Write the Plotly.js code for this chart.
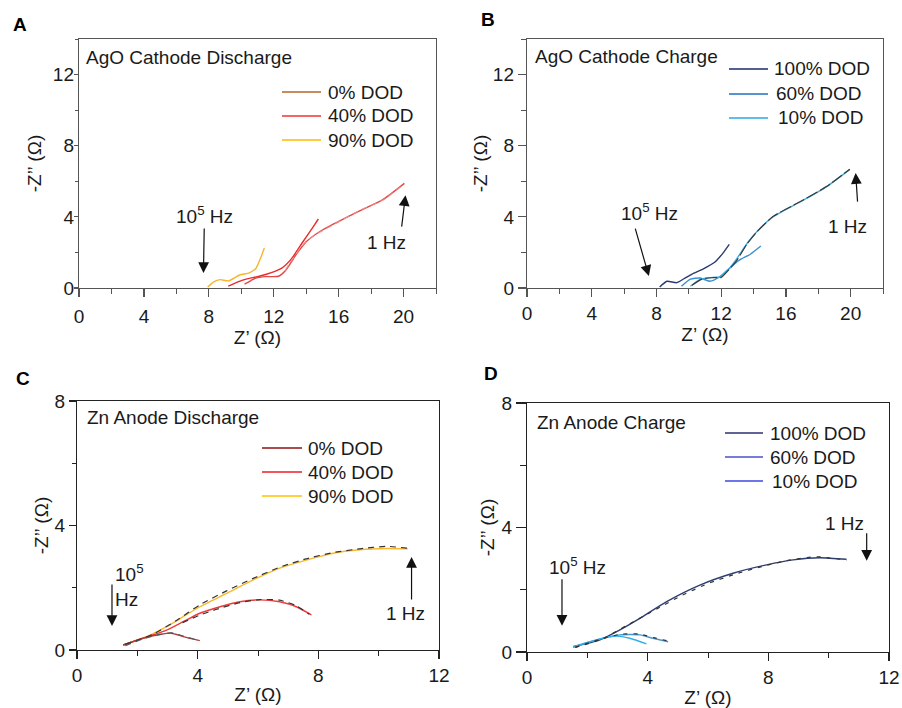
<!DOCTYPE html>
<html>
<head>
<meta charset="utf-8">
<script src="https://cdn.plot.ly/plotly-3.0.1.min.js"></script>
<style>html,body{margin:0;padding:0;background:#fff}#chart{width:902px;height:708px}</style>
</head>
<body>
<div id="chart"></div>
<script>
// ---------- DATA ----------
// Panel A : AgO Cathode Discharge
const A_labels = ["0% DOD", "40% DOD", "90% DOD"];
const A_keyColors = ["#b5652e", "#ee3333", "#ffb800"];
const A_short_x = [9.2, 9.8, 10.3, 11.1, 11.9, 12.5, 13.1, 13.8, 14.4, 14.75];
const A_short_y = [0.1, 0.35, 0.5, 0.66, 0.88, 1.12, 1.65, 2.6, 3.4, 3.88];
const A_long_x = [10.2, 10.6, 10.9, 11.5, 12.3, 12.7, 13.4, 14.0, 14.8, 15.8, 17.2, 18.7, 20.05];
const A_long_y = [0.22, 0.42, 0.56, 0.64, 0.66, 0.95, 1.9, 2.6, 3.15, 3.65, 4.3, 4.95, 5.88];
const A_90_x = [7.93, 8.3, 8.7, 9.2, 9.9, 10.5, 10.9, 11.2, 11.42];
const A_90_y = [0.05, 0.35, 0.47, 0.4, 0.73, 0.85, 1.1, 1.7, 2.25];
const A_fit_x = [12.7, 13.4, 14.0, 14.8, 15.8, 17.2, 18.7, 20.05];
const A_fit_y = [0.98, 1.95, 2.62, 3.12, 3.62, 4.32, 4.93, 5.85];

// Panel B : AgO Cathode Charge
const B_labels = ["100% DOD", "60% DOD", "10% DOD"];
const B_keyColors = ["#1a2a6c", "#1f6fc0", "#2aa8e0"];
const B_100_x = [8.2, 8.65, 9.25, 9.7, 10.2, 10.9, 11.6, 12.1, 12.5];
const B_100_y = [0.05, 0.38, 0.3, 0.52, 0.78, 1.08, 1.45, 1.95, 2.45];
const B_60_x = [9.55, 10.1, 10.7, 11.3, 11.9, 12.5, 13.1, 13.8, 14.45];
const B_60_y = [0.1, 0.5, 0.56, 0.38, 0.62, 1.1, 1.55, 1.9, 2.36];
const B_10_x = [10.1, 10.7, 11.5, 11.9, 12.4, 12.9, 13.6, 14.2, 15.2, 16.9, 18.5, 19.95];
const B_10_y = [0.1, 0.49, 0.6, 0.62, 1.0, 1.57, 2.5, 3.16, 4.0, 4.85, 5.69, 6.67];
const B_fit_x = [10.2, 10.8, 11.5, 12.0, 12.5, 13.0, 13.6, 14.2, 15.2, 16.9, 18.5, 19.95];
const B_fit_y = [0.15, 0.5, 0.58, 0.6, 1.05, 1.6, 2.48, 3.15, 4.02, 4.86, 5.7, 6.68];

// Panel C : Zn Anode Discharge
const C_labels = ["0% DOD", "40% DOD", "90% DOD"];
const C_keyColors = ["#8b1010", "#ee1c24", "#ffc000"];
const C_0_x = [1.53, 2.2, 2.75, 3.13, 3.52, 4.07];
const C_0_y = [0.16, 0.38, 0.5, 0.54, 0.43, 0.3];
const C_40_x = [1.53, 2.42, 2.97, 3.52, 4.07, 4.74, 5.4, 6.06, 6.72, 7.27, 7.77];
const C_40_y = [0.16, 0.45, 0.64, 0.91, 1.18, 1.39, 1.55, 1.61, 1.55, 1.39, 1.13];
const C_90_x = [1.53, 2.42, 2.97, 3.52, 4.07, 4.96, 5.84, 6.72, 7.6, 8.49, 9.37, 10.25, 10.97];
const C_90_y = [0.16, 0.48, 0.75, 1.07, 1.39, 1.82, 2.25, 2.63, 2.89, 3.11, 3.22, 3.26, 3.25];
const C_fit0_x = [1.6, 2.2, 2.75, 3.13, 3.52, 4.05];
const C_fit0_y = [0.14, 0.36, 0.5, 0.55, 0.45, 0.3];
const C_fit40_x = [3.5, 4.07, 4.6, 5.4, 6.06, 6.72, 7.27, 7.7];
const C_fit40_y = [0.88, 1.12, 1.3, 1.52, 1.62, 1.6, 1.42, 1.15];
const C_fit90_x = [1.6, 2.5, 3.3, 4.07, 4.96, 5.84, 6.72, 7.6, 8.49, 9.37, 10.25, 10.97];
const C_fit90_y = [0.18, 0.5, 0.95, 1.45, 1.9, 2.3, 2.66, 2.93, 3.13, 3.25, 3.33, 3.27];

// Panel D : Zn Anode Charge
const D_labels = ["100% DOD", "60% DOD", "10% DOD"];
const D_keyColors = ["#2b3070", "#4a50c8", "#3a48e0"];
const D_100_x = [1.53, 2.42, 3.08, 3.74, 4.63, 5.73, 6.83, 7.94, 8.82, 9.7, 10.59];
const D_100_y = [0.17, 0.39, 0.71, 1.08, 1.62, 2.15, 2.53, 2.8, 2.96, 3.03, 2.98];
const D_60_x = [1.53, 2.42, 3.08, 3.74, 4.18, 4.68];
const D_60_y = [0.17, 0.42, 0.55, 0.55, 0.44, 0.33];
const D_10_x = [1.53, 2.42, 2.97, 3.41, 3.96];
const D_10_y = [0.15, 0.42, 0.51, 0.44, 0.26];
const D_fit100_x = [1.6, 2.5, 3.3, 4.2, 5.1, 6.0, 6.9, 7.8, 8.7, 9.6, 10.6];
const D_fit100_y = [0.15, 0.42, 0.85, 1.33, 1.8, 2.2, 2.5, 2.75, 2.95, 3.06, 2.95];
const D_fit60_x = [1.6, 2.4, 3.1, 3.7, 4.2, 4.65];
const D_fit60_y = [0.15, 0.4, 0.57, 0.58, 0.46, 0.36];

// ---------- STYLE ----------
const FONT = "Liberation Sans, Arial, sans-serif";
const TXT = "#1a1a1a";
const FS = 19;

function line(name, x, y, color, xa, ya) {
  return {name: name, x: x, y: y, xaxis: xa, yaxis: ya, mode: "lines", type: "scatter",
    line: {color: color, width: 1.4, shape: "spline", smoothing: 0.6},
    showlegend: false, hoverinfo: "skip"};
}
function fit(x, y, xa, ya, color, dash) {
  return {name: "fit", x: x, y: y, xaxis: xa, yaxis: ya, mode: "lines", type: "scatter",
    line: {color: color || "#333", width: 1.2, dash: dash || "4px,3px", shape: "spline", smoothing: 0.6},
    showlegend: false, hoverinfo: "skip"};
}

const traces = [
  // A
  line(A_labels[2], A_90_x, A_90_y, "#f7b52c", "x", "y"),
  line(A_labels[1], A_short_x, A_short_y, "#ec2a2a", "x", "y"),
  line(A_labels[0], A_long_x, A_long_y, "#e04848", "x", "y"),
  fit(A_fit_x, A_fit_y, "x", "y", "rgba(240,140,140,0.9)", "6px,4px"),
  // B
  line(B_labels[0], B_100_x, B_100_y, "#2a3a70", "x2", "y2"),
  line(B_labels[1], B_60_x, B_60_y, "#3a8fd0", "x2", "y2"),
  line(B_labels[2], B_10_x, B_10_y, "#3aaee0", "x2", "y2"),
  fit(B_fit_x, B_fit_y, "x2", "y2", "#3a3a3a", "12px,3px"),
  // C
  line(C_labels[2], C_90_x, C_90_y, "#f8b92c", "x3", "y3"),
  line(C_labels[1], C_40_x, C_40_y, "#ee3a3a", "x3", "y3"),
  line(C_labels[0], C_0_x, C_0_y, "#b03a3a", "x3", "y3"),
  fit(C_fit90_x, C_fit90_y, "x3", "y3", "#333", "6px,5px"),
  fit(C_fit40_x, C_fit40_y, "x3", "y3", "#333", "6px,5px"),
  fit(C_fit0_x, C_fit0_y, "x3", "y3", "#555", "6px,5px"),
  // D
  line(D_labels[0], D_100_x, D_100_y, "#2c3e72", "x4", "y4"),
  line(D_labels[1], D_60_x, D_60_y, "#4a98d0", "x4", "y4"),
  line(D_labels[2], D_10_x, D_10_y, "#2eb0ea", "x4", "y4"),
  fit(D_fit100_x, D_fit100_y, "x4", "y4", "#333", "4px,6px"),
  fit(D_fit60_x, D_fit60_y, "x4", "y4", "#333", "4px,6px")
];

const W = 902, H = 708;
const px = v => v / W;
const py = v => 1 - v / H;

function axis(dom, range, dtick, anchor, title, lc, o) {
  return {
    domain: dom, range: range, dtick: dtick, tick0: 0, anchor: anchor,
    showline: true, mirror: true, linecolor: lc, linewidth: 1.2,
    ticks: "outside", ticklen: o.tl, tickwidth: 1.2, tickcolor: lc,
    ticklabelstandoff: o.tls || 0,
    minor: {dtick: dtick / 2, ticks: "outside", ticklen: o.ml, tickwidth: 1, tickcolor: lc, showgrid: false},
    showgrid: false, zeroline: false, fixedrange: true,
    tickfont: {family: FONT, size: FS, color: TXT},
    title: {text: title, font: {family: FONT, size: FS, color: TXT}, standoff: o.so}
  };
}

const XT = "Z’ (Ω)", YT = "-Z’’ (Ω)";

function txt(text, x, y, xref, yref, opts) {
  return Object.assign({text: text, x: x, y: y, xref: xref, yref: yref, showarrow: false,
    xanchor: "center", yanchor: "middle",
    font: {family: FONT, size: FS, color: TXT}}, opts || {});
}
function arrow(x, y, ax, ay, xref, yref, text) {
  return {text: text || "", x: x, y: y, ax: ax, ay: ay, xref: xref, yref: yref,
    showarrow: true, arrowhead: 2, arrowsize: 1.8, arrowwidth: 1.2, arrowcolor: "#111",
    font: {family: FONT, size: FS, color: TXT}};
}

const HZ5 = "10<sup>5</sup> Hz";
const BOLD = {family: "Liberation Sans, Arial, sans-serif", size: 19, color: "#000"};
const annotations = [
  // panel letters
  txt("<b>A</b>", px(20), py(24), "paper", "paper", {font: BOLD}),
  txt("<b>B</b>", px(488), py(19), "paper", "paper", {font: BOLD}),
  txt("<b>C</b>", px(23), py(378), "paper", "paper", {font: BOLD}),
  txt("<b>D</b>", px(491), py(373), "paper", "paper", {font: BOLD}),
  // panel titles
  txt("AgO Cathode Discharge", px(84), py(57), "paper", "paper", {xanchor: "left"}),
  txt("AgO Cathode Charge", px(533), py(56), "paper", "paper", {xanchor: "left"}),
  txt("Zn Anode Discharge", px(85), py(417), "paper", "paper", {xanchor: "left"}),
  txt("Zn Anode Charge", px(535), py(422), "paper", "paper", {xanchor: "left"}),
  // A
  arrow(7.67, 0.84, 1, -58, "x", "y", HZ5),
  txt("1 Hz", 18.96, 2.53, "x", "y"),
  arrow(20.12, 5.22, -4, 33, "x", "y"),
  // B
  txt(HZ5, 7.59, 4.27, "x2", "y2"),
  arrow(7.53, 0.67, -14, -49, "x2", "y2"),
  txt("1 Hz", 19.81, 3.48, "x2", "y2"),
  arrow(20.31, 6.46, 2, 30, "x2", "y2"),
  // C
  txt("10<sup>5</sup><br>Hz", 1.19, 2.07, "x3", "y3", {xanchor: "left", align: "left"}),
  arrow(1.16, 0.77, 0, -43, "x3", "y3"),
  txt("1 Hz", 10.89, 1.16, "x3", "y3"),
  arrow(11.09, 2.99, 0, 44, "x3", "y3"),
  // D
  txt(HZ5, 1.66, 2.77, "x4", "y4"),
  arrow(1.16, 0.84, 0, -48, "x4", "y4"),
  txt("1 Hz", 10.53, 4.12, "x4", "y4"),
  arrow(11.26, 2.93, 0, -29, "x4", "y4")
];

// legends (key line + label), positioned in page pixels
const shapes = [];
function legendBlock(labels, colors, x0, x1, textX, rows) {
  labels.forEach((lab, i) => {
    shapes.push({type: "line", xref: "paper", yref: "paper",
      x0: px(x0), x1: px(x1), y0: py(rows[i]), y1: py(rows[i]),
      line: {color: colors[i], width: 1.4}});
    annotations.push(txt(lab, px(textX[i]), py(rows[i]), "paper", "paper", {xanchor: "left"}));
  });
}
legendBlock(A_labels, A_keyColors, 282, 321, [326, 326, 326], [92, 116, 140]);
legendBlock(B_labels, B_keyColors, 729, 768, [772, 774, 776], [69, 94, 118]);
legendBlock(C_labels, C_keyColors, 262, 302, [306, 306, 306], [448, 472, 496]);
legendBlock(D_labels, D_keyColors, 725, 763, [768, 768, 770], [433, 457, 481]);

const layout = {
  width: W, height: H, margin: {l: 0, r: 0, t: 0, b: 0},
  paper_bgcolor: "#fff", plot_bgcolor: "#fff",
  font: {family: FONT, size: FS, color: TXT},
  showlegend: false,
  xaxis: axis([px(79), px(436)], [0, 22], 4, "y", XT, "#555", {tl: 8, ml: 5, tls: 3, so: 4}),
  yaxis: axis([1 - 288 / H, 1 - 39 / H], [0, 14], 4, "x", YT, "#555", {tl: 4, ml: 3, tls: -4, so: 6}),
  xaxis2: axis([px(527), px(883)], [0, 22], 4, "y2", XT, "#555", {tl: 8, ml: 5, tls: 0, so: 0}),
  yaxis2: axis([1 - 288 / H, 1 - 39 / H], [0, 14], 4, "x2", YT, "#555", {tl: 8, ml: 5, tls: 0, so: 0}),
  xaxis3: axis([px(77), px(439)], [0, 12], 4, "y3", XT, "#222", {tl: 8, ml: 5, tls: 0, so: 2}),
  yaxis3: axis([1 - 650 / H, 1 - 401 / H], [0, 8], 4, "x3", YT, "#222", {tl: 7, ml: 4, tls: 0, so: 0}),
  xaxis4: axis([px(527), px(889)], [0, 12], 4, "y4", XT, "#222", {tl: 8, ml: 5, tls: 0, so: 3}),
  yaxis4: axis([1 - 652 / H, 1 - 403 / H], [0, 8], 4, "x4", YT, "#222", {tl: 10, ml: 6, tls: 0, so: 1}),
  shapes: shapes,
  annotations: annotations
};

Plotly.newPlot("chart", traces, layout, {staticPlot: true, displayModeBar: false});
</script>
</body>
</html>
